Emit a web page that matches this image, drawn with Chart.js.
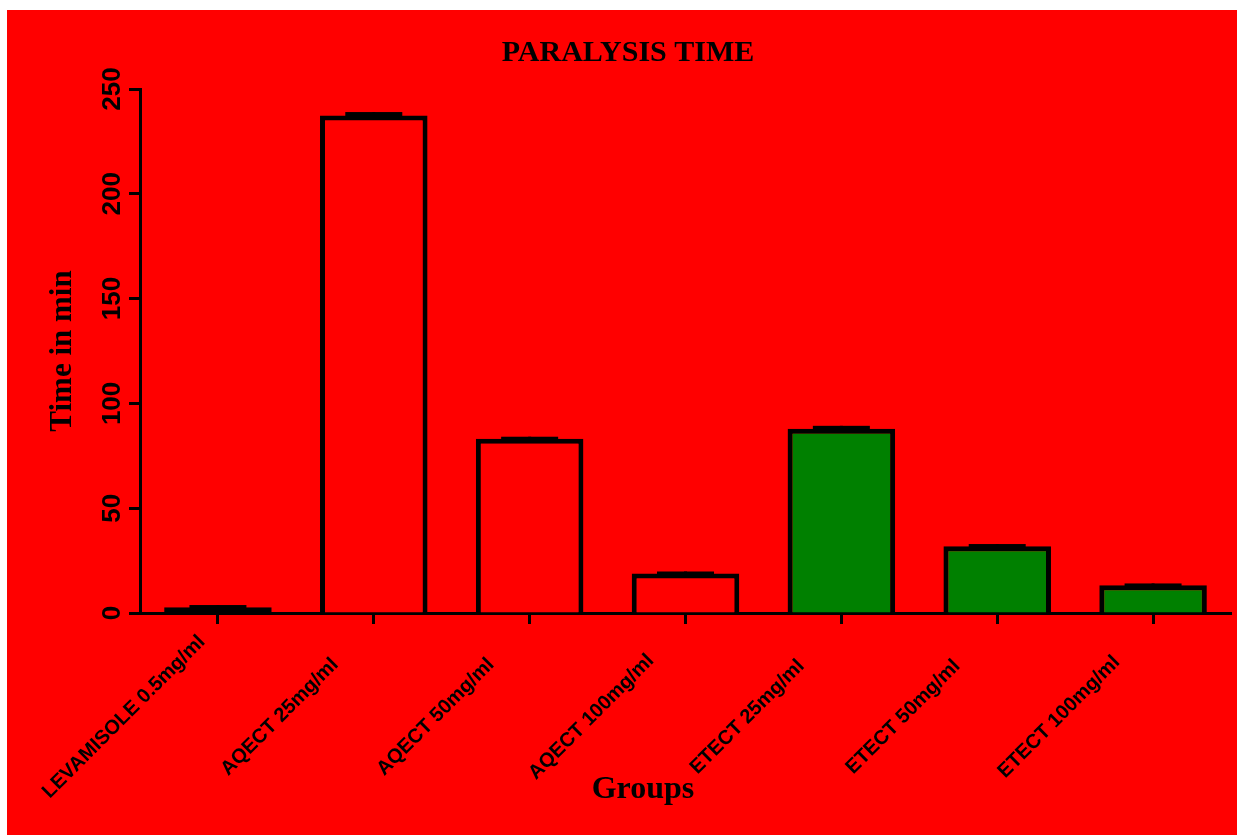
<!DOCTYPE html>
<html>
<head>
<meta charset="utf-8">
<title>Paralysis time</title>
<script src="https://cdn.jsdelivr.net/npm/chart.js@4.4.1/dist/chart.umd.min.js"></script>
<style>
    body { margin: 0; background: #ffffff; }
    #contenedor { position: absolute; left: 7px; top: 10px; width: 1230px; height: 825px; background: #ff0000; }
</style>
</head>
<body>
<div id="contenedor"><canvas id="graficoParalisis" width="1230" height="825"></canvas></div>
<script>
const grupos = ['LEVAMISOLE 0.5mg/ml', 'AQECT 25mg/ml', 'AQECT 50mg/ml', 'AQECT 100mg/ml', 'ETECT 25mg/ml', 'ETECT 50mg/ml', 'ETECT 100mg/ml'];
const tiempos = [2.8, 237.4, 83.1, 18.8, 87.9, 31.8, 13.2];
const errores = [1.0, 1.6, 1.0, 1.0, 1.4, 1.1, 0.9];
const coloresBarras = ['#ff0000', '#ff0000', '#ff0000', '#ff0000', '#008000', '#008000', '#008000'];
const marcasY = [0, 50, 100, 150, 200, 250];

const fuenteSans = 'Arial, "Liberation Sans", sans-serif';
const fuenteSerif = '"Times New Roman", "Liberation Serif", serif';

// Barras de error (solo hacia arriba, como en el original)
const barrasError = {
    id: 'barrasError',
    afterDatasetsDraw(chart) {
        const ctx = chart.ctx;
        const meta = chart.getDatasetMeta(0);
        const escalaY = chart.scales.y;
        ctx.save();
        ctx.fillStyle = '#000000';
        meta.data.forEach((barra, i) => {
            const tope = escalaY.getPixelForValue(tiempos[i] + errores[i]);
            const ancho = barra.width * 0.53;
            ctx.fillRect(barra.x - 1.5, tope, 3, barra.y - tope);
            ctx.fillRect(barra.x - ancho / 2, tope, ancho, 5);
        });
        ctx.restore();
    }
};

// Etiquetas del eje X giradas 45 grados y centradas (Chart.js las alinea a la derecha)
// y titulo "Groups" un poco corrido a la izquierda
const etiquetasGrupos = {
    id: 'etiquetasGrupos',
    afterDraw(chart) {
        const ctx = chart.ctx;
        const area = chart.chartArea;
        const escalaX = chart.scales.x;
        ctx.save();
        ctx.fillStyle = '#000000';
        ctx.font = 'bold 20px ' + fuenteSans;
        ctx.textAlign = 'center';
        ctx.textBaseline = 'middle';
        grupos.forEach((grupo, i) => {
            const xTick = escalaX.getPixelForTick(i);
            ctx.save();
            ctx.translate(xTick - 94, area.bottom + 104);
            ctx.rotate(-Math.PI / 4);
            ctx.fillText(grupo, 0, 0);
            ctx.restore();
        });

        ctx.font = 'bold 32px ' + fuenteSerif;
        ctx.fillText('Groups', area.left + (area.right - area.left) * 0.461, chart.height - 45);
        ctx.restore();
    }
};

Chart.defaults.color = '#000000';

const ctx = document.getElementById('graficoParalisis').getContext('2d');

const graficoParalisis = new Chart(ctx, {
    type: 'bar',
    data: {
        labels: grupos,
        datasets: [{
            label: 'Paralysis time',
            data: tiempos,
            backgroundColor: coloresBarras,
            borderColor: '#000000',
            borderWidth: 5,
            // la barra casi nula se ve toda negra en el original
            borderSkipped: c => (c.raw < 5 ? false : 'start'),
            barPercentage: 0.69,
            categoryPercentage: 1
        }]
    },
    options: {
        responsive: false,
        animation: false,
        layout: {
            padding: { left: 18, right: 6, top: 0, bottom: 0 }
        },
        plugins: {
            legend: { display: false },
            tooltip: { enabled: false },
            title: {
                display: true,
                text: 'PARALYSIS TIME',
                color: '#000000',
                font: { family: fuenteSerif, size: 30, weight: 'bold' },
                padding: { top: 25, bottom: 18 }
            }
        },
        scales: {
            x: {
                grid: {
                    offset: false,
                    drawOnChartArea: false,
                    drawTicks: true,
                    tickLength: 11,
                    tickWidth: 3,
                    tickColor: '#000000'
                },
                border: { display: true, color: '#000000', width: 3 },
                ticks: { display: false, autoSkip: false },
                afterFit: escala => { escala.height = 222; }
            },
            y: {
                min: 0,
                max: 250,
                grid: {
                    drawOnChartArea: false,
                    drawTicks: true,
                    tickLength: 11,
                    tickWidth: 3,
                    tickColor: '#000000'
                },
                border: { display: true, color: '#000000', width: 3 },
                ticks: {
                    autoSkip: false,
                    minRotation: 90,
                    maxRotation: 90,
                    crossAlign: 'center',
                    padding: -6,
                    font: { family: fuenteSans, size: 26, weight: 'bold' }
                },
                afterBuildTicks: eje => {
                    eje.ticks = marcasY.map(v => ({ value: v }));
                },
                title: {
                    display: true,
                    text: 'Time in min',
                    color: '#000000',
                    font: { family: fuenteSerif, size: 31, weight: 'bold' },
                    padding: { top: 19, bottom: 0 }
                },
                afterFit: escala => { escala.width = 115; }
            }
        }
    },
    plugins: [barrasError, etiquetasGrupos]
});
</script>
</body>
</html>
